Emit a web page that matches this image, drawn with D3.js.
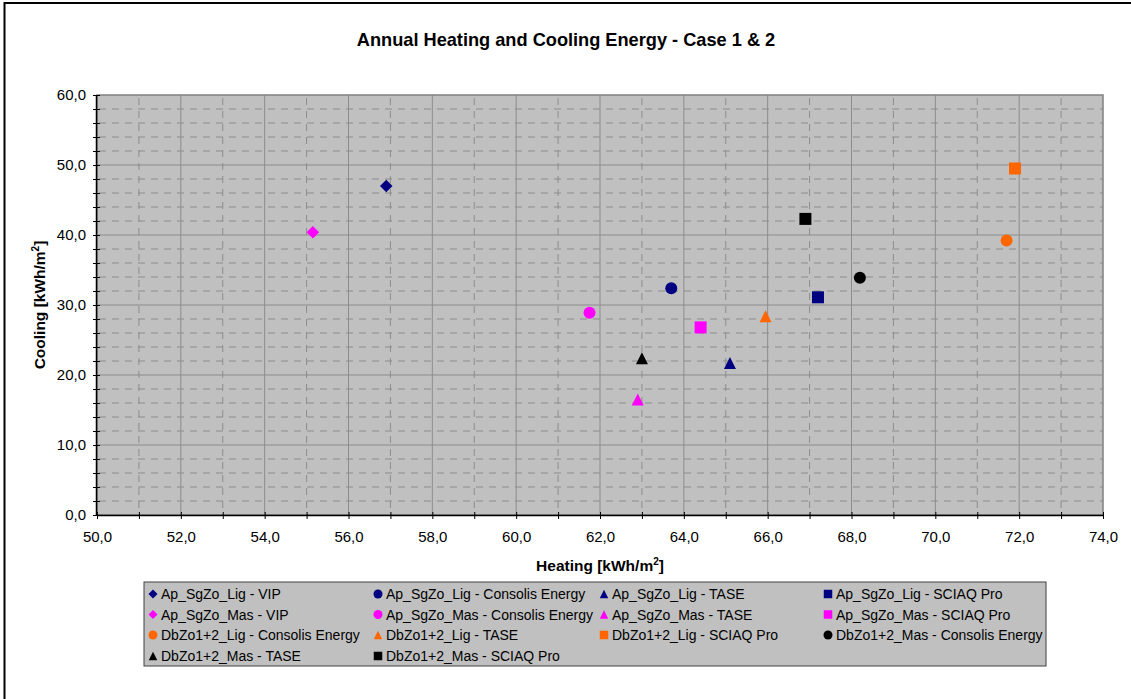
<!DOCTYPE html>
<html><head><meta charset="utf-8">
<script src="https://cdn.jsdelivr.net/npm/d3@7"></script>
<style>body{margin:0;background:#fff}svg{display:block;font-family:"Liberation Sans",Arial,sans-serif}</style>
</head><body><svg id="c" width="1131" height="699"></svg>
<script>
const seriesNames = [
  "Ap_SgZo_Lig - VIP","Ap_SgZo_Lig - Consolis Energy","Ap_SgZo_Lig - TASE","Ap_SgZo_Lig - SCIAQ Pro",
  "Ap_SgZo_Mas - VIP","Ap_SgZo_Mas - Consolis Energy","Ap_SgZo_Mas - TASE","Ap_SgZo_Mas - SCIAQ Pro",
  "DbZo1+2_Lig - Consolis Energy","DbZo1+2_Lig - TASE","DbZo1+2_Lig - SCIAQ Pro","DbZo1+2_Mas - Consolis Energy",
  "DbZo1+2_Mas - TASE","DbZo1+2_Mas - SCIAQ Pro"];
const heating = [56.9, 63.7, 65.1, 67.2, 55.15, 61.75, 62.9, 64.4, 71.7, 65.95, 71.9, 68.2, 63.0, 66.9];
const cooling = [47.0, 32.4, 21.7, 31.1, 40.4, 28.9, 16.5, 26.8, 39.2, 28.4, 49.5, 33.9, 22.4, 42.3];
const seriesColors = ["#000080","#000080","#000080","#000080","#FF00FF","#FF00FF","#FF00FF","#FF00FF",
  "#FF6600","#FF6600","#FF6600","#000000","#000000","#000000"];
const seriesShapes = ["diamond","circle","triangle","square","diamond","circle","triangle","square",
  "circle","triangle","square","circle","triangle","square"];
const xTicks = [50,52,54,56,58,60,62,64,66,68,70,72,74];
const yTicks = [0,10,20,30,40,50,60];
const titleText = "Annual Heating and Cooling Energy - Case 1 & 2";

const svg = d3.select("#c");
svg.append("line").attr("x1",4.5).attr("x2",1131).attr("y1",3).attr("y2",3).attr("stroke","#000").attr("stroke-width",2);
svg.append("line").attr("x1",4.5).attr("x2",4.5).attr("y1",2).attr("y2",699).attr("stroke","#000").attr("stroke-width",2);

const L=97, R=1103, T=95, B=515;
const x = d3.scaleLinear().domain([50,74]).range([L,R]);
const y = d3.scaleLinear().domain([0,60]).range([B,T]);

svg.append("rect").attr("x",L).attr("y",T).attr("width",R-L).attr("height",B-T).attr("fill","#C0C0C0");
const g = svg.append("g");
d3.range(2,60,2).filter(v=>v%10!==0).forEach(v=>{
  g.append("line").attr("x1",L).attr("x2",R).attr("y1",y(v)).attr("y2",y(v))
   .attr("stroke","#8C8C8C").attr("stroke-width",1).attr("stroke-dasharray","7,6").attr("stroke-dashoffset",-2);
});
d3.range(51,74,2).forEach(v=>{
  g.append("line").attr("x1",x(v)).attr("x2",x(v)).attr("y1",T).attr("y2",B)
   .attr("stroke","#8C8C8C").attr("stroke-width",1).attr("stroke-dasharray","7,6").attr("stroke-dashoffset",-3);
});
yTicks.forEach(v=>{ if(v>0&&v<60) g.append("line").attr("x1",L).attr("x2",R).attr("y1",y(v)).attr("y2",y(v)).attr("stroke","#8C8C8C").attr("stroke-width",1); });
xTicks.forEach(v=>{ if(v>50&&v<74) g.append("line").attr("x1",x(v)).attr("x2",x(v)).attr("y1",T).attr("y2",B).attr("stroke","#8C8C8C").attr("stroke-width",1); });
svg.append("rect").attr("x",L).attr("y",T).attr("width",R-L).attr("height",B-T).attr("fill","none").attr("stroke","#808080").attr("stroke-width",1.5);

const fmt = d => d3.format(".1f")(d).replace(".",",");
const xAxis = d3.axisBottom(x).tickValues(d3.range(50,75,1)).tickSize(5).tickFormat(d=> d%2===0?fmt(d):"");
const xg = svg.append("g").attr("transform",`translate(0,${B})`).call(xAxis);
xg.select(".domain").attr("d",`M${L},0.5H${R}`).attr("stroke","#000").attr("stroke-width",1.5);
xg.selectAll(".tick line").attr("y1",-3).attr("y2",4).attr("stroke","#000");
xg.selectAll(".tick text").attr("y",27).attr("dy",0).attr("font-size",15).attr("fill","#000").attr("font-family","Liberation Sans, Arial");
const yAxis = d3.axisLeft(y).tickValues(d3.range(0,61,2)).tickSize(5).tickFormat(d=> d%10===0?fmt(d):"");
const yg = svg.append("g").attr("transform",`translate(${L},0)`).call(yAxis);
yg.select(".domain").attr("d",`M-0.5,${T}V${B}`).attr("stroke","#000").attr("stroke-width",1.5);
yg.selectAll(".tick line").attr("x1",-4).attr("x2",3).attr("stroke","#000");
yg.selectAll(".tick text").attr("x",-11).attr("font-size",15).attr("fill","#000").attr("font-family","Liberation Sans, Arial");

svg.append("text").attr("x",566).attr("y",46).attr("text-anchor","middle").attr("font-weight","bold").attr("font-size",18.2).text(titleText);
const xt = svg.append("text").attr("x",600).attr("y",571).attr("text-anchor","middle").attr("font-weight","bold").attr("font-size",15.5);
xt.append("tspan").text("Heating [kWh/m");
xt.append("tspan").attr("dy",-6).attr("font-size",10).text("2");
xt.append("tspan").attr("dy",6).text("]");
const yt = svg.append("text").attr("transform","translate(45,305) rotate(-90)").attr("text-anchor","middle").attr("font-weight","bold").attr("font-size",15.5);
yt.append("tspan").text("Cooling [kWh/m");
yt.append("tspan").attr("dy",-6).attr("font-size",10).text("2");
yt.append("tspan").attr("dy",6).text("]");

function shapePath(shape, w){
  const h = w/2;
  if(shape==="diamond") return `M0,${-h}L${h},0L0,${h}L${-h},0Z`;
  if(shape==="square") return `M${-h},${-h}H${h}V${h}H${-h}Z`;
  if(shape==="triangle") return `M0,${-h}L${h},${h}H${-h}Z`;
  return d3.symbol().type(d3.symbolCircle).size(Math.PI*h*h)();
}
const sizes = {diamond:12.5, circle:12, triangle:12, square:12};
const pts = svg.append("g");
heating.forEach((hv,i)=>{
  const sh = seriesShapes[i];
  pts.append("path").attr("d",shapePath(sh,sizes[sh])).attr("transform",`translate(${x(hv)},${y(cooling[i])})`).attr("fill",seriesColors[i]);
});

const lg = svg.append("g");
lg.append("rect").attr("x",144).attr("y",582).attr("width",902).attr("height",84).attr("fill","#C0C0C0").attr("stroke","#404040").attr("stroke-width",1);
const colX = [153, 378, 604, 828];
const rowY = [594, 614.5, 635, 656];
const lsizes = {diamond:9, circle:9, triangle:8.5, square:8.5};
seriesNames.forEach((n,i)=>{
  const c = i%4, r = Math.floor(i/4);
  const sh = seriesShapes[i];
  lg.append("path").attr("d",shapePath(sh,lsizes[sh])).attr("transform",`translate(${colX[c]},${rowY[r]})`).attr("fill",seriesColors[i]);
  lg.append("text").attr("x",colX[c]+8).attr("y",rowY[r]+5).attr("font-size",14).text(n);
});
</script></body></html>
